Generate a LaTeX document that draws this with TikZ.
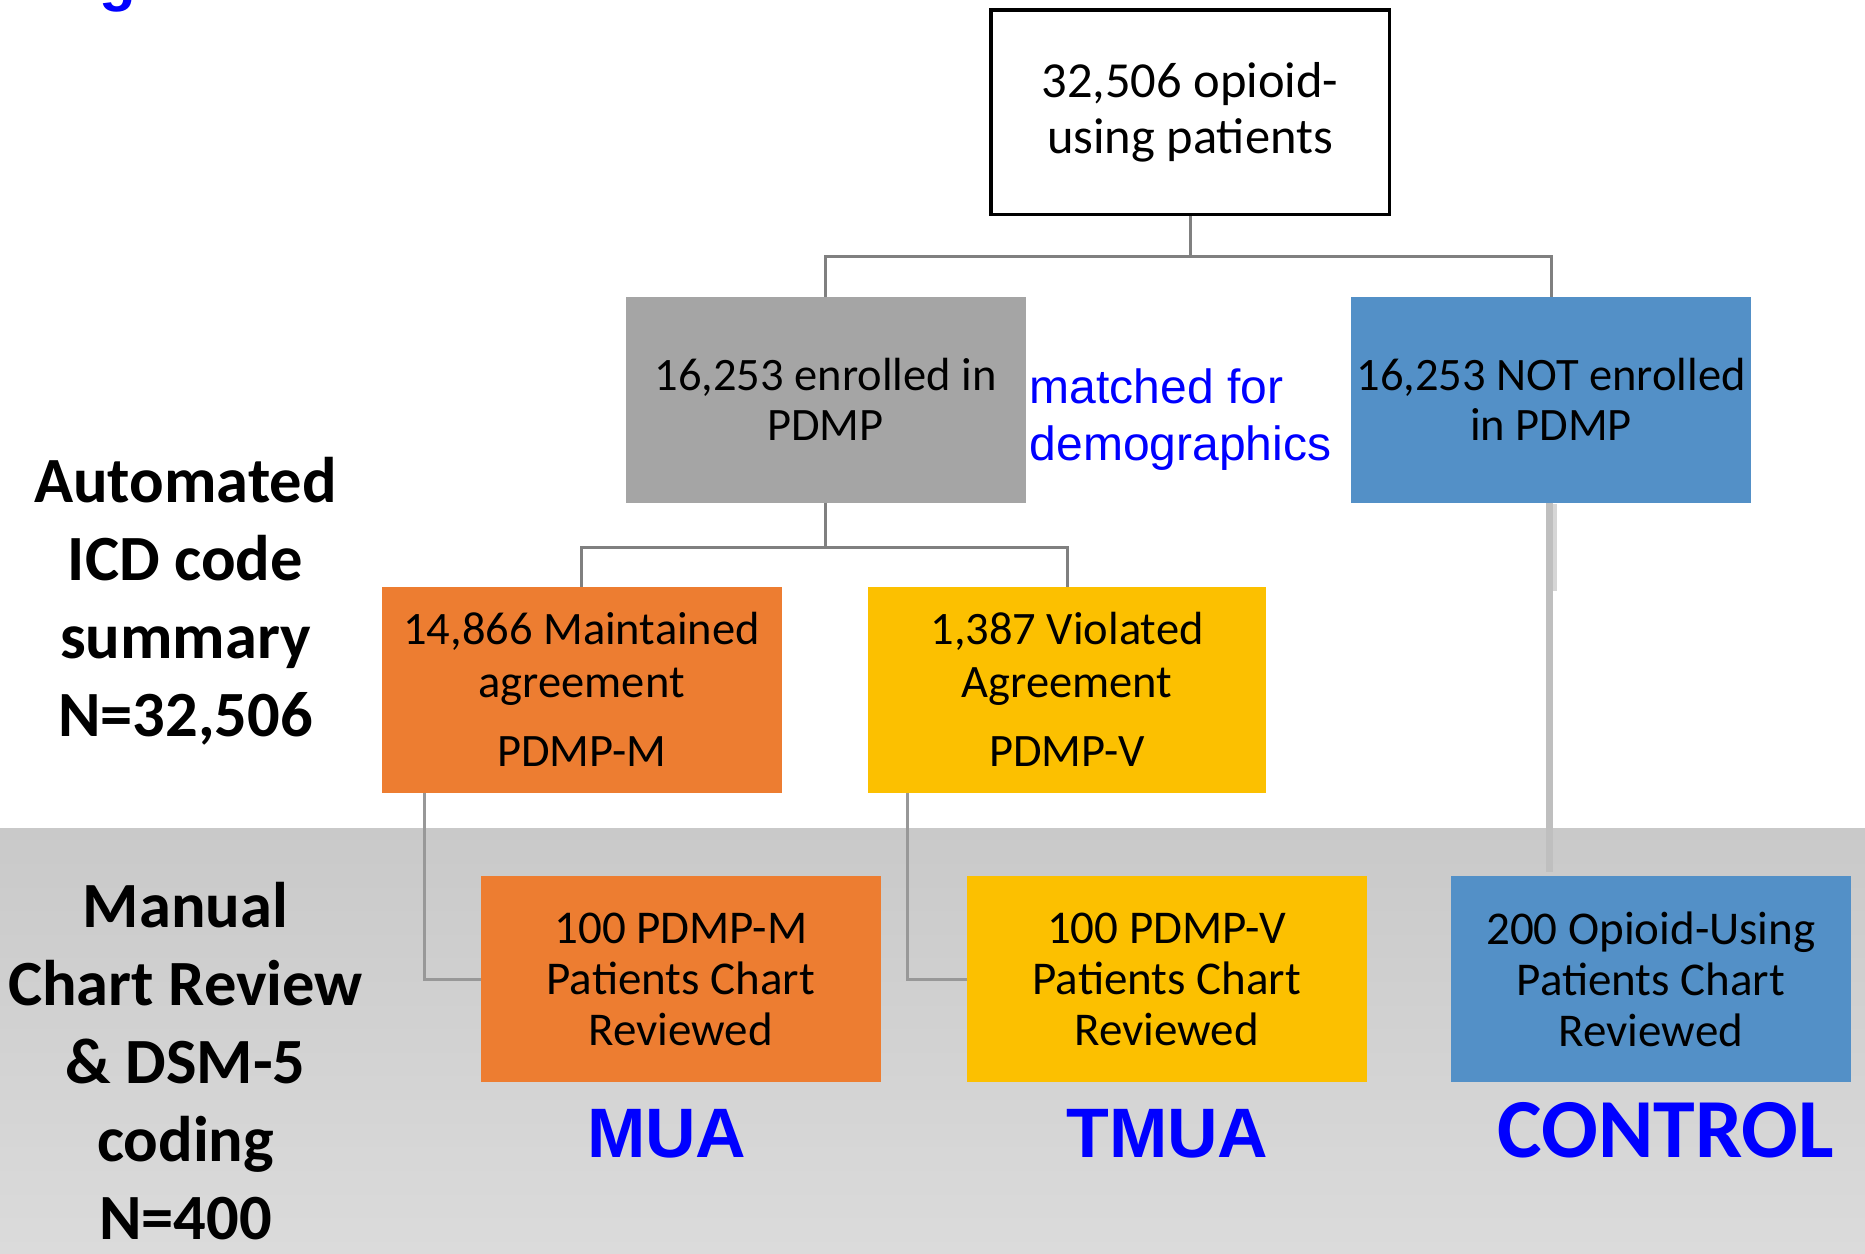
\documentclass[tikz,border=0pt]{standalone}
\usepackage{fontspec}
\setmainfont{Carlito}
\newfontfamily\arialf{Liberation Sans}
\usetikzlibrary{calc}
\definecolor{boxgray}{RGB}{165,165,165}
\definecolor{boxblue}{RGB}{83,144,199}
\definecolor{boxorange}{RGB}{237,125,49}
\definecolor{boxyellow}{RGB}{252,192,0}
\definecolor{txtblue}{RGB}{0,0,255}
\definecolor{conndark}{RGB}{128,128,128}
\definecolor{connmid}{RGB}{152,152,152}
\definecolor{connlight}{RGB}{191,191,191}
\definecolor{connstubc}{RGB}{214,214,214}
\definecolor{bandtop}{RGB}{201,201,201}
\definecolor{bandbot}{RGB}{219,219,219}
\begin{document}
\begin{tikzpicture}[x=1pt,y=-1pt,
  box/.style={rectangle, minimum width=400pt, minimum height=206pt, inner sep=0pt, outer sep=0pt, align=center, text=black, font=\fontsize{46.5}{50}\selectfont},
  boxthree/.style={box, font=\fontsize{46.5}{53}\selectfont},
  boxlow/.style={box, font=\fontsize{47}{51}\selectfont},
  topbox/.style={rectangle, draw=black, line width=3.5pt, fill=white, minimum width=398.5pt, minimum height=204.5pt, inner sep=0pt, align=center, font=\fontsize{50.5}{56}\selectfont},
  sidelabel/.style={inner sep=0pt, align=center, font=\bfseries\fontsize{64.5}{78}\selectfont},
  grouplabelA/.style={inner sep=0pt, anchor=base, text=txtblue, font=\arialf\bfseries\fontsize{70}{70}\selectfont},
  grouplabelB/.style={inner sep=0pt, anchor=base, text=txtblue, font=\bfseries\fontsize{84}{84}\selectfont},
  conn/.style={draw=conndark, line width=3pt},
  connm/.style={draw=connmid, line width=3pt},
  connl/.style={draw=connlight, line width=6.5pt},
  connstub/.style={draw=connstubc, line width=4pt}
]
\useasboundingbox (0,0) rectangle (1865,1253);
\fill[white] (0,0) rectangle (1865,1253);
% shaded band
\fill[top color=bandtop, bottom color=bandbot] (0,828) rectangle (1865,1253);
% cut title letter
\begin{scope}
\clip (0,0) rectangle (1865,1253);
\node[inner sep=0pt, anchor=base west, text=txtblue, font=\arialf\bfseries\fontsize{60}{60}\selectfont] (gtitle) at (99,-1) {g};
\end{scope}

% boxes
\node[topbox] (top) at (1190,112) {32,506 opioid-\\using patients};
\node[box, fill=boxgray] (gray) at (825.5,399.7) {16,253 enrolled in\\PDMP};
\node[box, fill=boxblue] (blue) at (1551,399.7) {16,253 NOT enrolled\\in PDMP};
\node[boxthree, fill=boxorange] (orange) at (581.6,689.5) {14,866 Maintained\\agreement\\[16pt]PDMP-M};
\node[boxthree, fill=boxyellow, minimum width=398pt] (yellow) at (1067,689.5) {1,387 Violated\\Agreement\\[16pt]PDMP-V};
\node[boxlow, fill=boxorange] (borange) at (680.8,979) {100 PDMP-M\\Patients Chart\\Reviewed};
\node[boxlow, fill=boxyellow] (byellow) at (1166.8,979) {100 PDMP-V\\Patients Chart\\Reviewed};
\node[boxlow, fill=boxblue] (bblue) at (1650.9,979) {200 Opioid-Using\\Patients Chart\\Reviewed};

% matched text
\node[inner sep=0pt, anchor=north west, align=left, text=txtblue, font=\arialf\fontsize{48}{57}\selectfont] (matched) at (1029.5,368.5) {matched for\\demographics};

% side labels
\node[sidelabel] (auto) at (185.5,601.5) {Automated\\ICD code\\summary\\N=32,506};
\node[sidelabel] (manual) at (185.5,1061.5) {Manual\\Chart Review\\\& DSM-5\\coding\\N=400};

% group labels
\node[grouplabelA] (mua) at (666.7,1157) {MUA};
\node[grouplabelA] (tmua) at (1167.4,1157) {TMUA};
\node[grouplabelB] (control) at (1666,1157) {CONTROL};

% connectors
\draw[conn] (top.south) -- ++(0,40) coordinate (tj) -| (gray.north);
\draw[conn] (tj) -| (blue.north);
\draw[conn] (gray.south) -- ++(0,45) coordinate (gj) -| (orange.north);
\draw[conn] (gj) -| (yellow.north);
\draw[connm] ($(orange.south west)+(43,0)$) |- (borange.west);
\draw[connm] ($(yellow.south west)+(39.5,0)$) |- (byellow.west);
\draw[connl] ($(blue.south)+(-1.5,0)$) -- ($(blue.south |- bblue.north)+(-1.5,-4)$);
\draw[connstub] ($(blue.south)+(4,1)$) -- ++(0,87);
\end{tikzpicture}
\end{document}
